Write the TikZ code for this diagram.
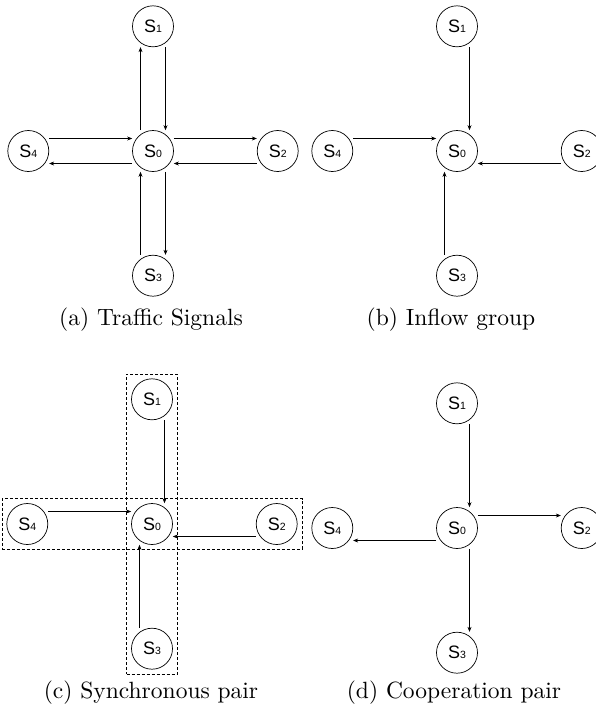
\documentclass[tikz,border=0pt]{standalone}
\usepackage{fontspec}
\setsansfont{Liberation Sans}
\newfontfamily\capfont{lmroman10-regular.otf}
\usetikzlibrary{arrows.meta,positioning,fit}
\newcommand{\sname}[1]{S{\fontsize{10.5}{10}\selectfont #1}}

\begin{document}
\begin{tikzpicture}[
  x=1pt, y=-1pt,
  node distance=83pt,
  sig/.style={draw,circle,minimum size=41pt,inner sep=0pt,line width=0.7pt,
    font=\sffamily\fontsize{18}{18}\selectfont},
  arrow/.style={-{Stealth[length=5pt,width=4pt]},line width=0.6pt},
  pairbox/.style={draw,rectangle,dash pattern=on 3pt off 2pt,line width=0.6pt,inner sep=4.5pt},
  caption/.style={font=\capfont\fontsize{23.5}{27}\selectfont}
]
\useasboundingbox (0,0) rectangle (596,713);

% (a) traffic signals
\node[sig] (a0) at (153,151) {\sname{0}};
\node[sig, above=of a0] (a1) {\sname{1}};
\node[sig, right=of a0] (a2) {\sname{2}};
\node[sig, below=of a0] (a3) {\sname{3}};
\node[sig, left=of a0] (a4) {\sname{4}};
\draw[arrow] ([xshift=-12.5pt]a0.north) -- ([xshift=-12.5pt]a1.south);
\draw[arrow] ([xshift=12.5pt]a1.south) -- ([xshift=12.5pt]a0.north);
\draw[arrow] ([yshift=12.5pt]a4.east) -- ([yshift=12.5pt]a0.west);
\draw[arrow] ([yshift=-12.5pt]a0.west) -- ([yshift=-12.5pt]a4.east);
\draw[arrow] ([yshift=12.5pt]a0.east) -- ([yshift=12.5pt]a2.west);
\draw[arrow] ([yshift=-12.5pt]a2.west) -- ([yshift=-12.5pt]a0.east);
\draw[arrow] ([xshift=-12.5pt]a3.north) -- ([xshift=-12.5pt]a0.south);
\draw[arrow] ([xshift=12.5pt]a0.south) -- ([xshift=12.5pt]a3.north);
\node[caption] (capa) at (151,320) {(a) Traffic Signals};

% (b) inflow group
\node[sig] (b0) at (457,151) {\sname{0}};
\node[sig, above=of b0] (b1) {\sname{1}};
\node[sig, right=of b0] (b2) {\sname{2}};
\node[sig, below=of b0] (b3) {\sname{3}};
\node[sig, left=of b0] (b4) {\sname{4}};
\draw[arrow] ([xshift=12.5pt]b1.south) -- ([xshift=12.5pt]b0.north);
\draw[arrow] ([yshift=12.5pt]b4.east) -- ([yshift=12.5pt]b0.west);
\draw[arrow] ([yshift=-12.5pt]b2.west) -- ([yshift=-12.5pt]b0.east);
\draw[arrow] ([xshift=-12.5pt]b3.north) -- ([xshift=-12.5pt]b0.south);
\node[caption] (capb) at (451,320) {(b) Inflow group};

% (c) synchronous pair
\node[sig] (c0) at (152,524) {\sname{0}};
\node[sig, above=of c0] (c1) {\sname{1}};
\node[sig, right=of c0] (c2) {\sname{2}};
\node[sig, below=of c0] (c3) {\sname{3}};
\node[sig, left=of c0] (c4) {\sname{4}};
\draw[arrow] ([xshift=12.5pt]c1.south) -- ([xshift=12.5pt]c0.north);
\draw[arrow] ([yshift=12.5pt]c4.east) -- ([yshift=12.5pt]c0.west);
\draw[arrow] ([yshift=-12.5pt]c2.west) -- ([yshift=-12.5pt]c0.east);
\draw[arrow] ([xshift=-12.5pt]c3.north) -- ([xshift=-12.5pt]c0.south);
\node[pairbox, fit=(c1)(c3)] (vpair) {};
\node[pairbox, fit=(c4)(c2)] (hpair) {};
\node[caption] (capc) at (151,693) {(c) Synchronous pair};

% (d) cooperation pair
\node[sig] (d0) at (457,528) {\sname{0}};
\node[sig, above=of d0] (d1) {\sname{1}};
\node[sig, right=of d0] (d2) {\sname{2}};
\node[sig, below=of d0] (d3) {\sname{3}};
\node[sig, left=of d0] (d4) {\sname{4}};
\draw[arrow] ([xshift=12.5pt]d1.south) -- ([xshift=12.5pt]d0.north);
\draw[arrow] ([yshift=12.5pt]d0.east) -- ([yshift=12.5pt]d2.west);
\draw[arrow] ([yshift=-12.5pt]d0.west) -- ([yshift=-12.5pt]d4.east);
\draw[arrow] ([xshift=12.5pt]d0.south) -- ([xshift=12.5pt]d3.north);
\node[caption] (capd) at (454,693) {(d) Cooperation pair};
\end{tikzpicture}
\end{document}
